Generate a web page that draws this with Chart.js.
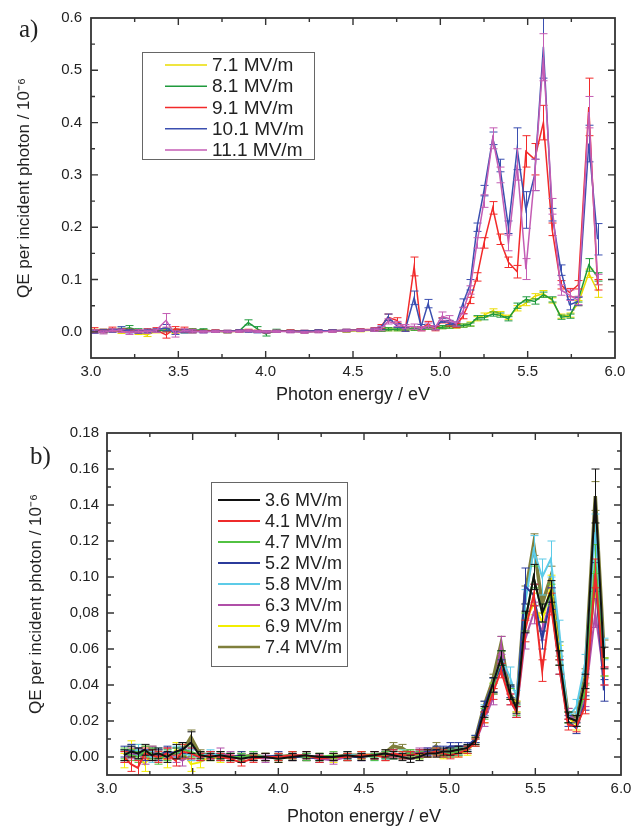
<!DOCTYPE html>
<html lang="en">
<head>
<meta charset="UTF-8">
<title>QE per incident photon</title>
<script src="https://cdn.jsdelivr.net/npm/chart.js@4.4.0/dist/chart.umd.min.js"></script>
<style>
  body { margin: 0; background: #fff; }
  #wrap { position: relative; width: 639px; height: 826px; }
  #chartA { position: absolute; left: 0; top: 0; }
  #chartB { position: absolute; left: 0; top: 410px; }
  .panel { position: absolute; font-family: "Liberation Serif", "Times New Roman", serif; font-size: 25px; color: #222; }
</style>
</head>
<body>
<div id="wrap">
  <canvas id="chartA" width="639" height="410"></canvas>
  <canvas id="chartB" width="639" height="416"></canvas>
  <div class="panel" style="left:19px;top:15px">a)</div>
  <div class="panel" style="left:30px;top:442px">b)</div>
</div>
<script>
// ---- panel a) data ----
const energyA = [3.02,3.07,3.12,3.17,3.22,3.27,3.32,3.37,3.43,3.48,3.53,3.58,3.64,3.71,3.78,3.85,3.90,3.95,4.00,4.06,4.14,4.22,4.30,4.38,4.46,4.54,4.62,
  4.66,4.70,4.75,4.80,4.85,4.89,4.93,4.97,5.01,5.05,5.09,5.13,5.17,5.21,5.25,5.30,5.34,5.39,5.44,5.49,5.54,5.59,5.64,5.69,5.74,5.79,5.85,5.90];
const labelsA = ['7.1 MV/m', '8.1 MV/m', '9.1 MV/m', '10.1 MV/m', '11.1 MV/m'];
const qe71 = [0.002,0.001,0.003,0.000,0.002,-0.002,-0.006,0.001,0.004,0.000,0.002,0.001,0.002,0.001,0.000,0.001,0.002,0.001,0.000,0.001,0.001,0.000,0.001,0.002,0.001,0.002,0.003,
  0.004,0.005,0.005,0.006,0.006,0.007,0.008,0.008,0.009,0.010,0.010,0.012,0.015,0.025,0.032,0.040,0.035,0.028,0.045,0.055,0.068,0.073,0.060,0.030,0.032,0.055,0.112,0.078];
const qe81 = [0.001,0.002,0.003,0.004,0.008,0.003,0.000,0.002,0.003,0.002,0.001,0.003,0.004,0.001,0.000,0.002,0.018,0.006,-0.004,0.003,0.001,0.000,0.001,0.002,0.002,0.003,0.004,
  0.004,0.005,0.005,0.006,0.006,0.007,0.008,0.008,0.009,0.010,0.011,0.012,0.014,0.027,0.027,0.034,0.032,0.025,0.050,0.062,0.058,0.071,0.062,0.028,0.030,0.062,0.128,0.105];
const qe91 = [0.004,0.002,0.005,0.003,0.002,0.001,0.003,0.004,-0.006,0.006,0.004,0.002,0.001,0.002,0.001,0.002,0.003,0.001,0.000,0.001,0.002,0.001,0.002,0.002,0.003,0.004,0.005,
  0.010,0.028,0.022,0.005,0.125,0.006,0.015,0.006,0.022,0.016,0.012,0.030,0.060,0.105,0.170,0.237,0.177,0.133,0.115,0.345,0.330,0.400,0.196,0.090,0.075,0.090,0.430,0.090];
const qe101 = [0.000,0.001,0.002,0.006,0.001,0.000,0.002,0.003,0.008,-0.002,0.001,0.001,0.000,0.001,0.001,0.002,0.001,0.000,0.000,0.001,0.001,0.001,0.002,0.002,0.003,0.003,0.004,
  0.008,0.028,0.012,0.005,0.065,0.010,0.054,0.008,0.022,0.018,0.015,0.055,0.090,0.200,0.270,0.370,0.318,0.200,0.350,0.233,0.300,0.545,0.224,0.118,0.052,0.058,0.360,0.177];
const qe111 = [0.001,-0.001,0.003,0.002,-0.002,0.001,0.000,0.002,0.022,-0.004,0.003,0.001,0.000,0.001,0.000,0.001,0.002,0.001,0.000,0.001,0.000,-0.001,0.000,0.001,0.002,0.003,0.004,
  0.006,0.020,0.015,0.010,0.010,0.006,0.012,0.008,0.030,0.025,0.015,0.040,0.080,0.170,0.250,0.370,0.300,0.170,0.320,0.120,0.300,0.525,0.240,0.080,0.070,0.060,0.420,0.100];
const err71 = [0.003,0.003,0.003,0.003,0.003,0.003,0.003,0.003,0.003,0.003,0.003,0.003,0.002,0.002,0.002,0.002,0.002,0.002,0.002,0.002,0.002,0.002,0.002,0.002,0.002,0.002,0.002,
  0.003,0.003,0.003,0.003,0.003,0.003,0.003,0.003,0.003,0.003,0.003,0.003,0.004,0.004,0.004,0.004,0.004,0.004,0.005,0.005,0.005,0.006,0.005,0.004,0.004,0.005,0.008,0.012];
const err81 = [0.003,0.003,0.003,0.003,0.004,0.003,0.003,0.003,0.003,0.003,0.003,0.003,0.002,0.002,0.002,0.002,0.005,0.004,0.004,0.002,0.002,0.002,0.002,0.002,0.002,0.002,0.002,
  0.003,0.003,0.003,0.003,0.003,0.003,0.003,0.003,0.003,0.003,0.003,0.003,0.003,0.004,0.004,0.004,0.004,0.004,0.005,0.005,0.005,0.005,0.005,0.004,0.004,0.005,0.012,0.008];
const err91 = [0.004,0.003,0.004,0.003,0.003,0.003,0.003,0.004,0.006,0.004,0.005,0.003,0.002,0.002,0.002,0.002,0.002,0.002,0.002,0.002,0.002,0.002,0.002,0.002,0.002,0.002,0.003,
  0.004,0.006,0.005,0.004,0.018,0.004,0.005,0.004,0.005,0.005,0.004,0.005,0.006,0.008,0.010,0.012,0.010,0.010,0.012,0.030,0.030,0.033,0.012,0.008,0.008,0.008,0.055,0.010];
const err101 = [0.003,0.003,0.003,0.004,0.003,0.003,0.003,0.003,0.006,0.003,0.003,0.003,0.002,0.002,0.002,0.002,0.002,0.002,0.002,0.002,0.002,0.002,0.002,0.002,0.002,0.002,0.003,
  0.003,0.006,0.004,0.004,0.013,0.004,0.008,0.004,0.004,0.004,0.004,0.008,0.010,0.008,0.010,0.012,0.012,0.012,0.040,0.035,0.030,0.060,0.012,0.010,0.010,0.008,0.035,0.030];
const err111 = [0.003,0.003,0.003,0.003,0.003,0.003,0.003,0.003,0.013,0.006,0.003,0.003,0.002,0.002,0.002,0.002,0.002,0.002,0.002,0.002,0.002,0.002,0.002,0.002,0.002,0.002,0.003,
  0.004,0.005,0.005,0.004,0.005,0.004,0.005,0.004,0.008,0.006,0.004,0.006,0.008,0.010,0.012,0.020,0.015,0.015,0.030,0.020,0.030,0.045,0.015,0.010,0.010,0.008,0.030,0.010];
const yTicksA = [0, 0.1, 0.2, 0.3, 0.4, 0.5, 0.6];
const yTickLabelsA = ['0.0', '0.1', '0.2', '0.3', '0.4', '0.5', '0.6'];
const yMinorA = [-0.05, 0.05, 0.15, 0.25, 0.35, 0.45, 0.55];

// ---- panel b) data ----
const energyB = [3.10,3.14,3.18,3.22,3.26,3.30,3.35,3.40,3.44,3.49,3.54,3.60,3.66,3.72,3.78,3.85,3.92,4.00,4.08,4.16,4.24,4.32,4.40,4.48,4.56,4.62,4.67,4.72,4.77,4.82,4.87,4.92,4.96,5.00,5.05,5.10,
  5.15,5.20,5.25,5.30,5.35,5.39,5.44,5.49,5.54,5.59,5.64,5.69,5.74,5.79,5.85,5.90];
const labelsB = ['3.6 MV/m', '4.1 MV/m', '4.7 MV/m', '5.2 MV/m', '5.8 MV/m', '6.3 MV/m', '6.9 MV/m', '7.4 MV/m'];
const qe36 = [0.001,0.003,0.002,0.004,0.001,0.002,0.000,0.003,0.004,0.008,0.001,0.000,0.001,0.000,-0.001,0.000,0.000,-0.001,0.000,0.001,0.000,0.000,0.001,0.000,0.001,0.002,0.001,0.000,-0.001,0.000,0.002,0.002,0.003,0.003,0.004,0.005,
  0.009,0.025,0.040,0.055,0.036,0.027,0.075,0.100,0.080,0.092,0.055,0.022,0.020,0.042,0.145,0.055];
const qe41 = [0.000,-0.004,-0.006,0.002,0.001,0.000,0.002,-0.002,0.003,0.002,0.000,0.001,0.000,-0.001,-0.003,-0.001,0.000,0.000,0.001,0.001,-0.001,0.000,0.000,0.001,0.001,0.000,0.002,0.001,0.001,0.002,0.002,0.003,0.002,0.001,0.002,0.004,
  0.008,0.022,0.035,0.048,0.032,0.025,0.070,0.090,0.048,0.085,0.050,0.018,0.017,0.028,0.102,0.045];
const qe47 = [0.002,0.001,0.000,0.003,0.002,-0.001,0.001,0.002,0.004,0.003,0.001,0.000,0.001,0.000,0.000,0.001,0.000,0.000,0.001,0.000,0.000,0.001,0.000,0.001,0.000,0.001,0.001,0.001,0.002,0.001,0.002,0.003,0.002,0.002,0.003,0.004,
  0.008,0.024,0.038,0.055,0.035,0.026,0.075,0.100,0.080,0.090,0.055,0.022,0.020,0.036,0.110,0.050];
const qe52 = [0.003,0.004,0.002,0.001,0.002,0.001,0.003,0.002,0.005,0.002,0.000,0.001,0.000,0.000,0.001,0.000,0.000,0.001,0.000,0.000,-0.001,0.000,0.000,0.000,0.001,0.001,0.002,0.001,0.001,0.002,0.003,0.004,0.004,0.006,0.006,0.006,
  0.010,0.028,0.040,0.050,0.036,0.025,0.095,0.090,0.065,0.088,0.050,0.020,0.016,0.030,0.100,0.037];
const qe58 = [0.001,0.003,0.004,0.001,0.000,0.002,0.001,0.003,0.002,0.001,0.000,0.002,0.001,0.000,0.000,0.001,0.000,0.000,0.001,0.001,0.000,0.000,0.001,0.001,0.000,0.001,0.001,0.002,0.001,0.002,0.002,0.003,0.002,0.003,0.003,0.005,
  0.010,0.026,0.040,0.055,0.045,0.033,0.085,0.115,0.100,0.110,0.070,0.022,0.028,0.052,0.125,0.060];
const qe63 = [0.000,0.002,0.001,-0.001,0.003,0.001,0.002,0.000,-0.002,0.001,0.000,0.001,0.002,0.001,0.000,0.000,-0.001,0.000,0.000,0.000,-0.001,-0.002,0.000,0.000,0.001,0.000,0.001,0.001,0.001,0.003,0.003,0.002,0.002,0.002,0.003,0.004,
  0.008,0.020,0.032,0.062,0.032,0.025,0.065,0.080,0.070,0.088,0.055,0.024,0.020,0.032,0.080,0.045];
const qe69 = [-0.002,0.005,0.003,-0.004,0.002,0.001,-0.002,0.004,0.003,-0.004,-0.003,0.000,-0.001,0.000,0.001,0.000,0.000,-0.001,0.000,0.000,0.000,-0.001,0.000,0.001,0.001,0.000,0.001,0.002,0.001,0.001,0.002,0.002,0.001,0.002,0.002,0.003,
  0.009,0.022,0.038,0.055,0.035,0.028,0.075,0.085,0.075,0.095,0.058,0.022,0.018,0.040,0.095,0.050];
const qe74 = [0.001,0.004,0.002,0.003,0.003,0.001,0.002,0.002,0.003,0.011,0.002,0.001,0.000,0.000,0.000,0.001,0.000,0.000,0.001,0.000,0.000,0.000,0.001,0.001,0.001,0.002,0.006,0.005,0.002,0.002,0.002,0.006,0.002,0.003,0.003,0.004,
  0.010,0.028,0.042,0.063,0.036,0.028,0.090,0.118,0.085,0.100,0.060,0.024,0.022,0.045,0.145,0.060];
const err36 = [0.003,0.003,0.003,0.003,0.003,0.003,0.003,0.004,0.004,0.006,0.002,0.002,0.002,0.002,0.002,0.002,0.002,0.002,0.002,0.002,0.002,0.002,0.002,0.002,0.002,0.002,0.002,0.002,0.002,0.002,0.002,0.002,0.002,0.002,0.002,0.002,
  0.002,0.003,0.004,0.004,0.004,0.003,0.006,0.007,0.005,0.006,0.004,0.003,0.003,0.004,0.015,0.006];
const err41 = [0.003,0.004,0.004,0.003,0.003,0.003,0.003,0.003,0.004,0.003,0.002,0.002,0.002,0.002,0.002,0.002,0.002,0.002,0.002,0.002,0.002,0.002,0.002,0.002,0.002,0.002,0.002,0.002,0.002,0.002,0.002,0.002,0.002,0.002,0.002,0.002,
  0.002,0.003,0.003,0.004,0.003,0.003,0.006,0.006,0.006,0.006,0.004,0.003,0.003,0.004,0.008,0.005];
const err47 = [0.003,0.003,0.003,0.003,0.003,0.003,0.003,0.003,0.003,0.003,0.002,0.002,0.002,0.002,0.002,0.002,0.002,0.002,0.002,0.002,0.002,0.002,0.002,0.002,0.002,0.002,0.002,0.002,0.002,0.002,0.002,0.002,0.002,0.002,0.002,0.002,
  0.002,0.003,0.003,0.004,0.003,0.003,0.005,0.006,0.005,0.006,0.004,0.003,0.003,0.004,0.008,0.005];
const err52 = [0.003,0.003,0.003,0.003,0.003,0.003,0.003,0.003,0.003,0.003,0.002,0.002,0.002,0.002,0.002,0.002,0.002,0.002,0.002,0.002,0.002,0.002,0.002,0.002,0.002,0.002,0.002,0.002,0.002,0.002,0.002,0.002,0.002,0.002,0.002,0.002,
  0.002,0.003,0.004,0.004,0.003,0.003,0.010,0.006,0.005,0.006,0.004,0.003,0.003,0.004,0.008,0.006];
const err58 = [0.003,0.003,0.003,0.003,0.003,0.003,0.003,0.003,0.003,0.003,0.002,0.002,0.002,0.002,0.002,0.002,0.002,0.002,0.002,0.002,0.002,0.002,0.002,0.002,0.002,0.002,0.002,0.002,0.002,0.002,0.002,0.002,0.002,0.002,0.002,0.002,
  0.002,0.003,0.004,0.004,0.005,0.004,0.008,0.008,0.010,0.010,0.006,0.003,0.004,0.005,0.010,0.006];
const err63 = [0.003,0.003,0.003,0.003,0.003,0.003,0.003,0.003,0.003,0.003,0.002,0.002,0.003,0.002,0.002,0.002,0.002,0.002,0.002,0.002,0.002,0.002,0.002,0.002,0.002,0.002,0.002,0.002,0.002,0.002,0.002,0.002,0.002,0.002,0.002,0.002,
  0.002,0.003,0.003,0.005,0.003,0.003,0.005,0.006,0.005,0.006,0.004,0.003,0.003,0.004,0.008,0.005];
const err69 = [0.004,0.004,0.004,0.004,0.003,0.003,0.004,0.004,0.004,0.004,0.003,0.002,0.002,0.002,0.002,0.002,0.002,0.002,0.002,0.002,0.002,0.002,0.002,0.002,0.002,0.002,0.002,0.002,0.002,0.002,0.002,0.002,0.002,0.002,0.002,0.002,
  0.002,0.003,0.003,0.004,0.003,0.003,0.005,0.006,0.005,0.006,0.004,0.003,0.003,0.004,0.008,0.005];
const err74 = [0.003,0.003,0.003,0.003,0.003,0.003,0.003,0.003,0.003,0.004,0.002,0.002,0.002,0.002,0.002,0.002,0.002,0.002,0.002,0.002,0.002,0.002,0.002,0.002,0.002,0.002,0.002,0.002,0.002,0.002,0.002,0.002,0.002,0.002,0.002,0.002,
  0.002,0.003,0.004,0.004,0.003,0.003,0.005,0.006,0.005,0.006,0.004,0.003,0.003,0.004,0.008,0.005];
const yTicksB = [0, 0.02, 0.04, 0.06, 0.08, 0.10, 0.12, 0.14, 0.16, 0.18];
const yTickLabelsB = ['0.00', '0.02', '0.04', '0.06', '0,08', '0.10', '0.12', '0.14', '0.16', '0.18'];
const yMinorB = [-0.01, 0.01, 0.03, 0.05, 0.07, 0.09, 0.11, 0.13, 0.15, 0.17];

// shared x axis
const xTicks = [3.0, 3.5, 4.0, 4.5, 5.0, 5.5, 6.0];
const xTickLabels = ['3.0', '3.5', '4.0', '4.5', '5.0', '5.5', '6.0'];
const xMinor = [3.25, 3.75, 4.25, 4.75, 5.25, 5.75];

const FONT = '"Liberation Sans", Arial, sans-serif';
const INK = '#222';

// error bars, boxed frame with inward ticks, and the legend box
const framePlugin = {
  id: 'frame',
  afterDatasetDraw(chart, args, opts) {
    const ds = chart.data.datasets[args.index];
    if (!ds.errors) return;
    const ctx = chart.ctx, xs = chart.scales.x, ys = chart.scales.y, a = chart.chartArea;
    ctx.save();
    ctx.beginPath();
    ctx.rect(a.left, a.top, a.right - a.left, a.bottom - a.top);
    ctx.clip();
    ctx.strokeStyle = ds.borderColor;
    ctx.lineWidth = 1;
    ds.data.forEach((p, i) => {
      const e = ds.errors[i];
      const x = Math.round(xs.getPixelForValue(p.x)) + 0.5;
      const y1 = ys.getPixelForValue(p.y - e), y2 = ys.getPixelForValue(p.y + e);
      ctx.beginPath();
      ctx.moveTo(x, y1); ctx.lineTo(x, y2);
      ctx.moveTo(x - opts.cap, y1); ctx.lineTo(x + opts.cap, y1);
      ctx.moveTo(x - opts.cap, y2); ctx.lineTo(x + opts.cap, y2);
      ctx.stroke();
    });
    ctx.restore();
  },
  afterDraw(chart, args, opts) {
    const ctx = chart.ctx, xs = chart.scales.x, ys = chart.scales.y, a = chart.chartArea;
    ctx.save();
    ctx.strokeStyle = '#333';
    ctx.lineWidth = 1.8;
    ctx.strokeRect(a.left, a.top, a.right - a.left, a.bottom - a.top);
    ctx.lineWidth = 1.4;
    const tick = (vals, len) => {
      vals.forEach(v => {
        const x = xs.getPixelForValue(v);
        if (x <= a.left + 1 || x >= a.right - 1) return;
        ctx.beginPath();
        ctx.moveTo(x, a.bottom); ctx.lineTo(x, a.bottom - len);
        ctx.moveTo(x, a.top); ctx.lineTo(x, a.top + len);
        ctx.stroke();
      });
    };
    const ytick = (vals, len) => {
      vals.forEach(v => {
        const y = ys.getPixelForValue(v);
        if (y <= a.top + 1 || y >= a.bottom - 1) return;
        ctx.beginPath();
        ctx.moveTo(a.left, y); ctx.lineTo(a.left + len, y);
        ctx.moveTo(a.right, y); ctx.lineTo(a.right - len, y);
        ctx.stroke();
      });
    };
    tick(xTicks, 7); tick(xMinor, 4);
    ytick(opts.yMajor, 7); ytick(opts.yMinor, 4);

    // legend
    const L = opts.legend;
    ctx.lineWidth = 1;
    ctx.strokeStyle = '#666';
    ctx.strokeRect(L.x + 0.5, L.y + 0.5, L.w, L.h);
    ctx.font = L.size + 'px ' + FONT;
    ctx.textBaseline = 'middle';
    ctx.fillStyle = INK;
    chart.data.datasets.forEach((ds, i) => {
      const y = L.y + L.first + i * L.row;
      ctx.strokeStyle = ds.borderColor;
      ctx.lineWidth = Math.min(ds.borderWidth, 2.5);
      ctx.beginPath();
      ctx.moveTo(L.x + L.lineFrom, y); ctx.lineTo(L.x + L.lineTo, y);
      ctx.stroke();
      ctx.fillText(ds.label, L.x + L.textAt, y + 1);
    });
    ctx.restore();
  }
};

function makeChart(id, energies, values, errors, labels, colors, widths, orders, cfg) {
  const datasets = values.map((vals, i) => ({
    label: labels[i],
    data: energies.map((e, j) => ({ x: e, y: vals[j] })),
    errors: errors[i],
    borderColor: colors[i],
    borderWidth: widths[i],
    order: orders[i],
    pointRadius: 0,
    tension: 0,
    fill: false
  }));
  return new Chart(document.getElementById(id), {
    type: 'line',
    data: { datasets },
    plugins: [framePlugin],
    options: {
      responsive: false,
      animation: false,
      layout: { padding: { left: 0, right: cfg.padRight, top: cfg.padTop, bottom: 0 } },
      plugins: {
        legend: { display: false },
        tooltip: { enabled: false },
        frame: { cap: cfg.cap, yMajor: cfg.yTicks, yMinor: cfg.yMinor, legend: cfg.legend }
      },
      scales: {
        x: {
          type: 'linear', min: 3, max: 6,
          afterBuildTicks: s => { s.ticks = xTicks.map(v => ({ value: v })); },
          afterFit: s => { s.height = cfg.xHeight; },
          grid: { display: false, drawTicks: false }, border: { display: false },
          ticks: { autoSkip: false, maxRotation: 0, padding: 5, color: INK,
                   font: { family: FONT, size: 15 }, callback: (v, i) => xTickLabels[i] },
          title: { display: true, text: 'Photon energy / eV', color: INK,
                   font: { family: FONT, size: 18, lineHeight: 1 }, padding: { top: 0, bottom: cfg.xTitlePad } }
        },
        y: {
          type: 'linear', min: cfg.yMin, max: cfg.yMax,
          afterBuildTicks: s => { s.ticks = cfg.yTicks.map(v => ({ value: v })); },
          afterFit: s => { s.width = cfg.yWidth; },
          grid: { display: false, drawTicks: false }, border: { display: false },
          ticks: { autoSkip: false, padding: cfg.yTickPad, color: INK,
                   font: { family: FONT, size: 15 }, callback: (v, i) => cfg.yLabels[i] },
          title: { display: true, text: 'QE per incident photon / 10\u207B\u2076', color: INK,
                   font: { family: FONT, size: 17, lineHeight: 1 }, padding: { top: cfg.yTitlePad, bottom: 0 } }
        }
      }
    }
  });
}

makeChart('chartA', energyA,
  [qe71, qe81, qe91, qe101, qe111],
  [err71, err81, err91, err101, err111],
  labelsA,
  ['#eadc00', '#1f9a3c', '#f22a2a', '#3b4fb0', '#c45db4'],
  [1.5, 1.5, 1.5, 1.5, 1.5],
  [5, 4, 3, 2, 1],
  { padRight: 24, padTop: 12, xHeight: 52, xTitlePad: 6, yWidth: 91, yTickPad: 9, yTitlePad: 16,
    yMin: -0.05, yMax: 0.6, yTicks: yTicksA, yLabels: yTickLabelsA, yMinor: yMinorA, cap: 4,
    legend: { x: 142, y: 52, w: 172, h: 107, first: 13, row: 21.25, lineFrom: 23, lineTo: 65, textAt: 70, size: 19 } });

makeChart('chartB', energyB,
  [qe36, qe41, qe47, qe52, qe58, qe63, qe69, qe74],
  [err36, err41, err47, err52, err58, err63, err69, err74],
  labelsB,
  ['#111111', '#ee2b2b', '#52c242', '#2b3b9b', '#5ccbe8', '#b04fa8', '#f2ee00', '#7f7f3c'],
  [2, 2, 2, 2, 2, 2, 2, 3.5],
  [1, 2, 3, 4, 5, 6, 7, 8],
  { padRight: 18, padTop: 23, xHeight: 51, xTitlePad: 0, yWidth: 107, yTickPad: 8, yTitlePad: 28,
    yMin: -0.01, yMax: 0.18, yTicks: yTicksB, yLabels: yTickLabelsB, yMinor: yMinorB, cap: 4,
    legend: { x: 211, y: 72, w: 136, h: 184, first: 18, row: 21, lineFrom: 7, lineTo: 49, textAt: 54, size: 18 } });
</script>
</body>
</html>
